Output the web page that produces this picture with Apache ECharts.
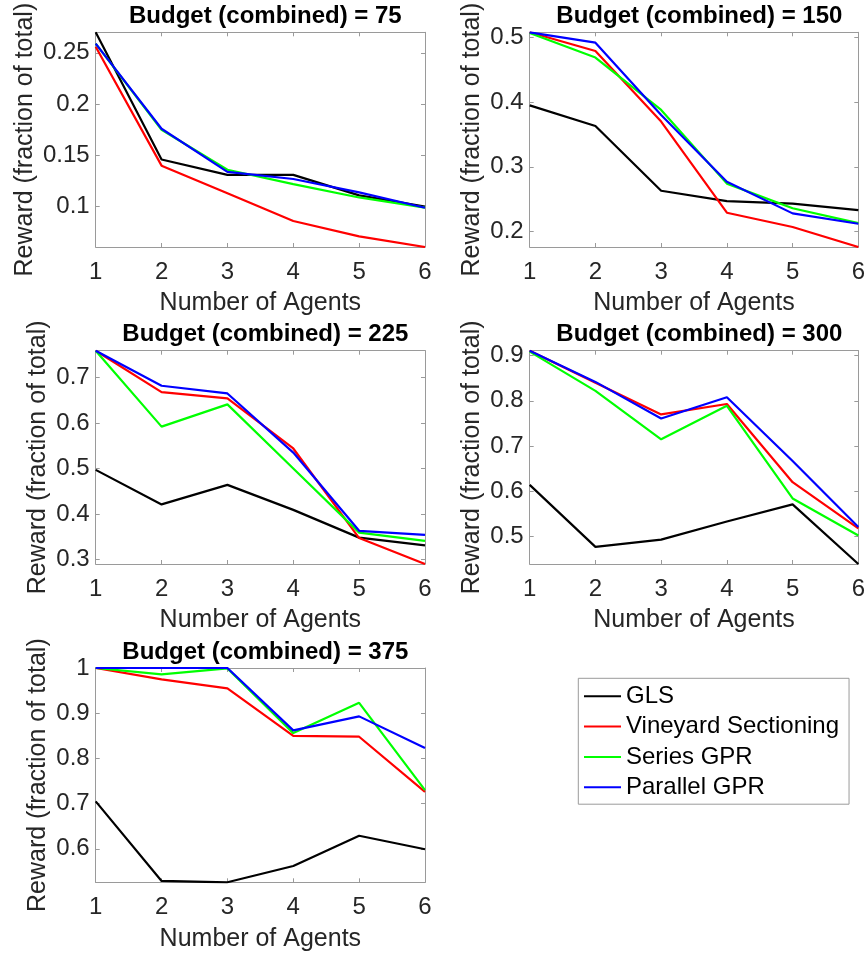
<!DOCTYPE html>
<html>
<head>
<meta charset="utf-8">
<script src="https://cdn.jsdelivr.net/npm/echarts@6/dist/echarts.min.js"></script>
<style>
html,body{margin:0;padding:0;background:#fff;}
#chart{width:868px;height:953px;}
</style>
</head>
<body>
<div id="chart"></div>
<script>
// ---- Data ----
const agents = [1, 2, 3, 4, 5, 6];
const budgets = [75, 150, 225, 300, 375];
const seriesNames = ['GLS', 'Vineyard Sectioning', 'Series GPR', 'Parallel GPR'];

const gls75   = [0.270, 0.146, 0.131, 0.131, 0.111, 0.100];
const vs75    = [0.256, 0.140, 0.113, 0.086, 0.071, 0.0607];
const sgpr75  = [0.259, 0.175, 0.136, 0.122, 0.109, 0.099];
const pgpr75  = [0.259, 0.176, 0.134, 0.127, 0.114, 0.099];

const gls150  = [0.395, 0.363, 0.263, 0.247, 0.243, 0.233];
const vs150   = [0.508, 0.479, 0.370, 0.229, 0.207, 0.176];
const sgpr150 = [0.507, 0.469, 0.388, 0.274, 0.236, 0.213];
const pgpr150 = [0.508, 0.492, 0.380, 0.277, 0.228, 0.212];

const gls225  = [0.497, 0.421, 0.464, 0.409, 0.348, 0.331];
const vs225   = [0.759, 0.668, 0.654, 0.544, 0.347, 0.290];
const sgpr225 = [0.759, 0.592, 0.641, 0.500, 0.359, 0.341];
const pgpr225 = [0.759, 0.682, 0.665, 0.535, 0.363, 0.354];

const gls300  = [0.614, 0.477, 0.493, 0.533, 0.571, 0.439];
const vs300   = [0.911, 0.840, 0.770, 0.793, 0.620, 0.518];
const sgpr300 = [0.909, 0.822, 0.715, 0.789, 0.584, 0.502];
const pgpr300 = [0.911, 0.842, 0.761, 0.808, 0.667, 0.521];

const gls375  = [0.705, 0.529, 0.526, 0.562, 0.629, 0.599];
const vs375   = [1.000, 0.975, 0.955, 0.850, 0.848, 0.726];
const sgpr375 = [1.000, 0.986, 0.999, 0.856, 0.923, 0.730];
const pgpr375 = [1.000, 1.000, 1.000, 0.862, 0.893, 0.823];

const yTicks75  = [0.1, 0.15, 0.2, 0.25];
const yTicks150 = [0.2, 0.3, 0.4, 0.5];
const yTicks225 = [0.3, 0.4, 0.5, 0.6, 0.7];
const yTicks300 = [0.5, 0.6, 0.7, 0.8, 0.9];
const yTicks375 = [0.6, 0.7, 0.8, 0.9, 1];

// ---- Build ----
const panelData = [
  [gls75, vs75, sgpr75, pgpr75],
  [gls150, vs150, sgpr150, pgpr150],
  [gls225, vs225, sgpr225, pgpr225],
  [gls300, vs300, sgpr300, pgpr300],
  [gls375, vs375, sgpr375, pgpr375]
];
const panelTicks = [yTicks75, yTicks150, yTicks225, yTicks300, yTicks375];
const colors = ['#000000', '#ff0000', '#00ff00', '#0000ff'];

const grids = [
  {left: 95.7,  top: 32.3,  width: 329.3, height: 214.7},
  {left: 529.7, top: 32.3,  width: 329.3, height: 214.7},
  {left: 95.7,  top: 350.7, width: 329.3, height: 213.3},
  {left: 529.7, top: 350.7, width: 329.3, height: 213.3},
  {left: 95.7,  top: 668,   width: 329.3, height: 214.3}
];
const titleTops = [-1, 317, 635];
const yNameGaps = [58, 45, 45, 45, 45];

const FONT = '"Liberation Sans", Arial, Helvetica, sans-serif';
const axisCol = '#9a9a9a';
const textCol = '#262626';

const xAxes = [], yAxes = [], series = [], titles = [];
grids.forEach((g, i) => {
  g.containLabel = false;
  g.show = false;
  xAxes.push({
    type: 'value', gridIndex: i, min: 1, max: 6, interval: 1, position: 'bottom',
    name: 'Number of Agents', nameLocation: 'middle', nameGap: 44,
    nameTextStyle: {fontFamily: FONT, fontSize: 25, color: textCol},
    axisLine: {show: true, lineStyle: {color: axisCol, width: 1}},
    axisTick: {show: true, inside: true, length: 4, lineStyle: {color: axisCol}},
    axisLabel: {show: true, margin: 13, fontFamily: FONT, fontSize: 24, color: textCol,
      showMinLabel: true, showMaxLabel: true},
    splitLine: {show: false}
  });
  xAxes.push({
    type: 'value', gridIndex: i, min: 1, max: 6, interval: 1, position: 'top',
    axisLine: {show: true, lineStyle: {color: axisCol, width: 1}},
    axisTick: {show: true, inside: true, length: 4, lineStyle: {color: axisCol}},
    axisLabel: {show: false}, splitLine: {show: false}
  });
  const ticks = panelTicks[i];
  yAxes.push({
    type: 'value', gridIndex: i, min: 'dataMin', max: 'dataMax', position: 'left',
    name: 'Reward (fraction of total)', nameLocation: 'middle', nameGap: yNameGaps[i],
    nameTextStyle: {fontFamily: FONT, fontSize: 25, color: textCol},
    axisLine: {show: true, lineStyle: {color: axisCol, width: 1}},
    axisTick: {show: true, inside: true, length: 4, lineStyle: {color: axisCol}, customValues: ticks},
    axisLabel: {show: true, margin: 6, fontFamily: FONT, fontSize: 24, color: textCol, customValues: ticks},
    splitLine: {show: false}
  });
  yAxes.push({
    type: 'value', gridIndex: i, min: 'dataMin', max: 'dataMax', position: 'right',
    axisLine: {show: true, lineStyle: {color: axisCol, width: 1}},
    axisTick: {show: true, inside: true, length: 4, lineStyle: {color: axisCol}, customValues: ticks},
    axisLabel: {show: false}, splitLine: {show: false}
  });
  panelData[i].forEach((arr, k) => {
    series.push({
      name: seriesNames[k], type: 'line', xAxisIndex: 2 * i, yAxisIndex: 2 * i,
      data: agents.map((a, j) => [a, arr[j]]),
      showSymbol: false, symbol: 'none', color: colors[k],
      lineStyle: {color: colors[k], width: 2.2}, clip: true, z: 2 + k
    });
  });
  // invisible helper series so right/top axes share extents
  series.push({
    type: 'line', xAxisIndex: 2 * i + 1, yAxisIndex: 2 * i + 1,
    data: [].concat(...panelData[i].map(arr => agents.map((a, j) => [a, arr[j]]))),
    showSymbol: false, symbol: 'none', lineStyle: {opacity: 0}, silent: true, tooltip: {show: false}
  });
  titles.push({
    text: 'Budget (combined) = ' + budgets[i],
    left: g.left + g.width / 2, top: titleTops[Math.floor(i / 2)], textAlign: 'center',
    textStyle: {fontFamily: FONT, fontSize: 24, fontWeight: 'bold', color: '#000'}
  });
});

const option = {
  animation: false,
  backgroundColor: '#ffffff',
  title: titles,
  grid: grids,
  xAxis: xAxes,
  yAxis: yAxes,
  legend: {
    orient: 'vertical', left: 578.3, top: 678.3,
    padding: [6, 10, 5, 5.7], itemGap: 6.3, itemWidth: 37, itemHeight: 2, icon: 'rect',
    borderColor: '#9a9a9a', borderWidth: 1, backgroundColor: '#fff',
    textStyle: {fontFamily: FONT, fontSize: 24, color: '#000', lineHeight: 24},
    data: seriesNames
  },
  series: series
};

const chart = echarts.init(document.getElementById('chart'), null, {renderer: 'canvas'});
chart.setOption(option);
</script>
</body>
</html>
